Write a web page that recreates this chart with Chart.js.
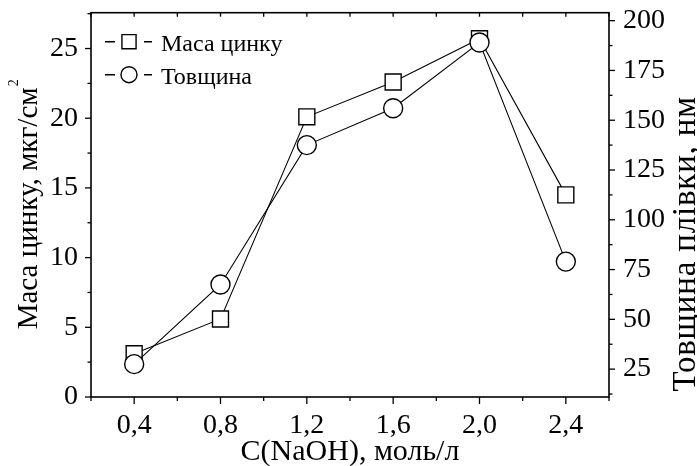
<!DOCTYPE html>
<html lang="uk">
<head>
<meta charset="utf-8">
<title>Маса цинку і товщина плівки</title>
<script src="https://cdn.jsdelivr.net/npm/chart.js@4.4.1/dist/chart.umd.min.js"></script>
<style>
  html, body { margin: 0; padding: 0; background: #fff; }
  #wrap { width: 697px; height: 466px; position: relative; }
</style>
</head>
<body>
<div id="wrap"><canvas id="chart"></canvas></div>
<script>
// ── дані ──
const concentrations = [0.4, 0.8, 1.2, 1.6, 2.0, 2.4];     // моль/л
const zincMass       = [3.1, 5.6, 20.1, 22.6, 25.7, 14.5]; // мкг/см²
const thickness      = [27.5, 67.5, 137.5, 156, 189, 79];  // нм

const xTicks     = [0.4, 0.8, 1.2, 1.6, 2.0, 2.4];
const massTicks  = [0, 5, 10, 15, 20, 25];
const thickTicks = [25, 50, 75, 100, 125, 150, 175, 200];

const seriesLabels = ['Маса цинку', 'Товщина'];
const xTitle       = 'C(NaOH), моль/л';
const massTitle    = 'Маса цинку, мкг/см';
const massTitleSup = '2';
const thickTitle   = 'Товщина плівки, нм';

const FONT = '"Liberation Serif", "Times New Roman", serif';

// ── рамка + великі/малі поділки ──
const frameTicks = {
  id: 'frameTicks',
  afterDraw(chart) {
    const { ctx, chartArea: a, scales } = chart;
    const line = (x1, y1, x2, y2) => { ctx.beginPath(); ctx.moveTo(x1, y1); ctx.lineTo(x2, y2); ctx.stroke(); };
    const minors = (t, lo, hi) => {
      const h = (t[1] - t[0]) / 2;
      return [...t.map(v => v - h), t[t.length - 1] + h].filter(v => v >= lo - 1e-9 && v <= hi + 1e-9);
    };
    ctx.save();
    ctx.strokeStyle = '#000';
    ctx.lineWidth = 1.6;
    ctx.strokeRect(a.left, a.top, a.right - a.left, a.bottom - a.top);

    ctx.lineWidth = 1.3;
    const sx = scales.x, sl = scales.yMass, sr = scales.yThick;
    xTicks.forEach(v => {
      const p = sx.getPixelForValue(v);
      line(p, a.bottom, p, a.bottom + 7);
      line(p, a.top, p, a.top + 4);
    });
    minors(xTicks, sx.min, sx.max).forEach(v => {
      const p = sx.getPixelForValue(v);
      line(p, a.bottom, p, a.bottom + 4);
      line(p, a.top, p, a.top + 4);
    });
    massTicks.forEach(v => { const p = sl.getPixelForValue(v); line(a.left - 6, p, a.left, p); });
    minors(massTicks, sl.min, sl.max).forEach(v => { const p = sl.getPixelForValue(v); line(a.left - 3.5, p, a.left, p); });
    thickTicks.forEach(v => { const p = sr.getPixelForValue(v); line(a.right, p, a.right + 6, p); });
    minors(thickTicks, sr.min, sr.max).forEach(v => { const p = sr.getPixelForValue(v); line(a.right, p, a.right + 3.5, p); });
    ctx.restore();
  }
};

// ── легенда всередині графіка ──
const innerLegend = {
  id: 'innerLegend',
  afterDraw(chart) {
    const { ctx, chartArea: a } = chart;
    ctx.save();
    ctx.strokeStyle = '#000';
    chart.data.datasets.forEach((ds, i) => {
      const cy = a.top + 29 + i * 33;
      const cx = a.left + 38;
      ctx.lineWidth = 1.4;
      ctx.beginPath();
      ctx.moveTo(cx - 24, cy); ctx.lineTo(cx - 14, cy);
      ctx.moveTo(cx + 15, cy); ctx.lineTo(cx + 23, cy);
      ctx.stroke();
      ctx.fillStyle = '#fff';
      Chart.helpers.drawPoint(ctx, {
        pointStyle: ds.pointStyle, radius: ds.pointStyle === 'rect' ? 10 : 8, borderWidth: 1.3, rotation: 0
      }, cx, cy);
      ctx.fillStyle = '#000';
      ctx.font = '24px ' + FONT;
      ctx.textBaseline = 'alphabetic';
      ctx.fillText(ds.label, a.left + 70, cy + 9);
    });
    ctx.restore();
  }
};

// ── вертикальні підписи осей ──
const yTitles = {
  id: 'yTitles',
  afterDraw(chart) {
    const { ctx, chartArea: a } = chart;
    const midY = (a.top + a.bottom) / 2;
    ctx.save();
    ctx.fillStyle = '#000';
    ctx.textBaseline = 'alphabetic';

    // ліва
    ctx.save();
    ctx.translate(a.left - 54, midY);
    ctx.rotate(-Math.PI / 2);
    ctx.font = '29px ' + FONT;
    const w = ctx.measureText(massTitle).width;
    ctx.font = '14px ' + FONT;
    const ws = ctx.measureText(massTitleSup).width;
    const x0 = -(w + ws) / 2;
    ctx.font = '29px ' + FONT;
    ctx.fillText(massTitle, x0, 0);
    ctx.font = '14px ' + FONT;
    ctx.fillText(massTitleSup, x0 + w + 1, -19);
    ctx.restore();

    // права
    ctx.save();
    ctx.translate(a.right + 86, midY + 39);
    ctx.rotate(-Math.PI / 2);
    ctx.font = '33px ' + FONT;
    if ('letterSpacing' in ctx) ctx.letterSpacing = '0.8px';
    ctx.textAlign = 'center';
    ctx.fillText(thickTitle, 0, 0);
    ctx.restore();

    ctx.restore();
  }
};

document.addEventListener('DOMContentLoaded', () => {

  Chart.defaults.color = '#000';
  Chart.defaults.font.family = FONT;

  const ctx = document.getElementById('chart');

  new Chart(ctx, {
    type: 'line',
    data: {
      datasets: [
        {
          label           : seriesLabels[0],
          data            : concentrations.map((x, i) => ({ x, y: zincMass[i] })),
          yAxisID         : 'yMass',
          borderColor     : '#000',
          borderWidth     : 1.1,
          pointStyle      : 'rect',
          pointRadius     : 11.3,
          pointBorderWidth: 1.4,
          pointBackgroundColor: '#fff',
          pointBorderColor: '#000',
          order           : 2,
        },
        {
          label           : seriesLabels[1],
          data            : concentrations.map((x, i) => ({ x, y: thickness[i] })),
          yAxisID         : 'yThick',
          borderColor     : '#000',
          borderWidth     : 1.1,
          pointStyle      : 'circle',
          pointRadius     : 9.5,
          pointBorderWidth: 1.4,
          pointBackgroundColor: '#fff',
          pointBorderColor: '#000',
          order           : 1,
        }
      ]
    },
    options: {
      responsive: true,
      maintainAspectRatio: false,
      animation: false,
      layout: { padding: { top: 11, left: 0, right: 0, bottom: 0 } },
      plugins: {
        legend : { display: false },
        tooltip: { enabled: false },
      },
      scales: {
        x: {
          type: 'linear',
          min : 0.2,
          max : 2.6,
          border: { display: false },
          grid  : { display: false, drawTicks: false },
          afterBuildTicks: s => { s.ticks = xTicks.map(v => ({ value: v })); },
          afterFit: s => { s.height = 69; s.paddingLeft = 0; s.paddingRight = 0; },
          ticks: {
            padding : 12,
            font    : { size: 28 },
            callback: v => v.toFixed(1).replace('.', ','),
          },
          title: {
            display: true,
            text   : xTitle,
            font   : { size: 30, lineHeight: 0.9 },
            padding: 0,
          }
        },
        yMass: {
          position: 'left',
          min : 0,
          max : 27.57,
          border: { display: false },
          grid  : { display: false, drawTicks: false },
          afterBuildTicks: s => { s.ticks = massTicks.map(v => ({ value: v })); },
          afterFit: s => { s.width = 91; s.paddingTop = 0; s.paddingBottom = 0; },
          ticks: { padding: 13, font: { size: 28 } },
        },
        yThick: {
          position: 'right',
          min : 11,
          max : 204,
          border: { display: false },
          grid  : { display: false, drawTicks: false },
          afterBuildTicks: s => { s.ticks = thickTicks.map(v => ({ value: v })); },
          afterFit: s => { s.width = 88; s.paddingTop = 0; s.paddingBottom = 0; },
          ticks: { padding: 14, font: { size: 28 } },
        }
      }
    },
    plugins: [frameTicks, innerLegend, yTitles]
  });

});
</script>
</body>
</html>
